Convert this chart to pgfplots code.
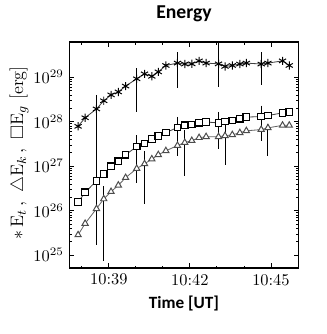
\documentclass[border=0pt]{standalone}
\usepackage{fontspec}
\usepackage{amssymb}
\usepackage{pgfplots}
\pgfplotsset{compat=1.18}
\newfontfamily\carlito{Carlito}
\begin{document}
\begin{tikzpicture}
\begin{axis}[
  scale only axis, width=139.8pt, height=138pt,
  ymode=log,
  xmin=37.54, xmax=46.02, ymin=5.13e24, ymax=6.17e29,
  xtick={39,42,45}, xticklabels={10:39,10:42,10:45},
  minor xtick={38,40,41,43,44,46},
  ytick={1e25,1e26,1e27,1e28,1e29},
  tick align=inside,
  major tick length=3pt, minor tick length=1.6pt,
  tick style={black, line width=0.5pt},
  axis line style={line width=0.8pt},
  tick label style={font=\normalsize},
  title={\carlito\bfseries\fontsize{12}{14}\selectfont Energy},
  title style={at={(axis description cs:0.5,1.083)}, anchor=center},
  xlabel={\carlito\bfseries\fontsize{10.5}{12}\selectfont Time [UT]},
  xlabel style={at={(axis description cs:0.5,-0.155)}, anchor=center},
  ylabel={\fontsize{11}{13}\selectfont $\ast\,\mathrm{E}_t\,,\ \triangle\mathrm{E}_k\,,\ \square\mathrm{E}_g$ [erg]},
  ylabel style={at={(axis description cs:-0.22,0.51)}, anchor=center},
]
% error bars
\addplot[black, line width=0.55pt, mark=none, unbounded coords=jump] coordinates {
 (38.54,4.01e28) (38.54,9.33e27) (38.54,nan)
 (38.54,9.33e27) (38.54,1.74e25) (38.54,nan)
 (38.81,3.51e26) (38.81,7.38e24) (38.81,nan)
 (40.03,1.61e29) (40.03,1.64e28) (40.03,nan)
 (40.03,4.99e27) (40.03,4.30e26) (40.03,nan)
 (40.32,2.18e27) (40.32,1.43e26) (40.32,nan)
 (41.54,3.69e29) (41.54,5.64e28) (41.54,nan)
 (41.54,1.29e28) (41.54,1.69e27) (41.54,nan)
 (41.81,6.44e27) (41.81,6.04e26) (41.81,nan)
 (43.06,7.08e29) (43.06,5.93e28) (43.06,nan)
 (43.06,1.66e28) (43.06,2.42e27) (43.06,nan)
 (43.30,1.17e28) (43.30,1.09e27) (43.30,nan)
 (44.64,3.69e29) (44.64,6.56e28) (44.64,nan)
 (44.64,2.29e28) (44.64,3.76e27) (44.64,nan)
 (44.89,9.06e27) (44.89,1.69e27)
};
% E_t
\addplot[black!75, line width=0.5pt, mark=asterisk, mark size=2.5pt, mark options={black, line width=0.6pt}] coordinates {
 (37.86,7.89e27) (38.12,1.23e28) (38.54,1.94e28) (38.81,2.96e28) (39.08,4.01e28)
 (39.35,4.67e28) (39.62,6.32e28) (40.03,9.23e28) (40.32,1.19e29) (40.59,1.05e29)
 (40.83,1.32e29) (41.11,1.84e29) (41.54,2.08e29) (41.81,1.98e29) (42.07,2.00e29)
 (42.34,2.33e29) (42.60,2.08e29) (43.06,2.00e29) (43.30,1.75e29) (43.57,1.84e29)
 (43.85,1.98e29) (44.09,2.08e29) (44.64,1.98e29) (44.89,2.08e29) (45.43,2.33e29)
 (45.68,1.84e29)
};
% E_g
\addplot[black!75, line width=0.5pt, mark=square*, mark size=2pt, mark options={draw=black, fill=white, line width=0.7pt}] coordinates {
 (37.86,1.56e26) (38.12,2.59e26) (38.54,4.68e26) (38.81,6.76e26) (39.08,1.00e27)
 (39.35,1.29e27) (39.62,1.81e27) (40.03,2.77e27) (40.32,3.23e27) (40.59,4.07e27)
 (40.83,4.74e27) (41.11,5.73e27) (41.54,7.38e27) (41.81,8.30e27) (42.07,8.73e27)
 (42.34,9.53e27) (42.60,9.86e27) (43.06,9.42e27) (43.30,1.02e28) (43.57,1.07e28)
 (43.85,1.17e28) (44.09,1.27e28) (44.64,1.31e28) (44.89,1.38e28) (45.43,1.58e28)
 (45.68,1.64e28)
};
% E_k
\addplot[black!60, line width=0.5pt, mark=triangle*, mark size=2.2pt, mark options={draw=black!70, fill=white, line width=0.6pt}] coordinates {
 (37.86,2.86e25) (38.12,5.16e25) (38.54,1.11e26) (38.81,1.84e26) (39.08,2.68e26)
 (39.35,3.74e26) (39.62,5.53e26) (40.03,8.87e26) (40.32,1.13e27) (40.59,1.45e27)
 (40.83,1.81e27) (41.11,2.22e27) (41.54,2.92e27) (41.81,3.40e27) (42.07,3.76e27)
 (42.34,4.38e27) (42.60,4.60e27) (43.06,4.60e27) (43.30,4.84e27) (43.57,5.09e27)
 (43.85,5.64e27) (44.09,6.25e27) (44.64,6.67e27) (44.89,7.28e27) (45.43,8.30e27)
 (45.68,8.30e27)
};
\coordinate (bl) at (rel axis cs:0,0);
\coordinate (tr) at (rel axis cs:1,1);
\end{axis}
\path ([xshift=-42.4pt,yshift=-40.2pt]bl) rectangle ([xshift=17.4pt,yshift=22.2pt]tr);
\end{tikzpicture}
\end{document}
